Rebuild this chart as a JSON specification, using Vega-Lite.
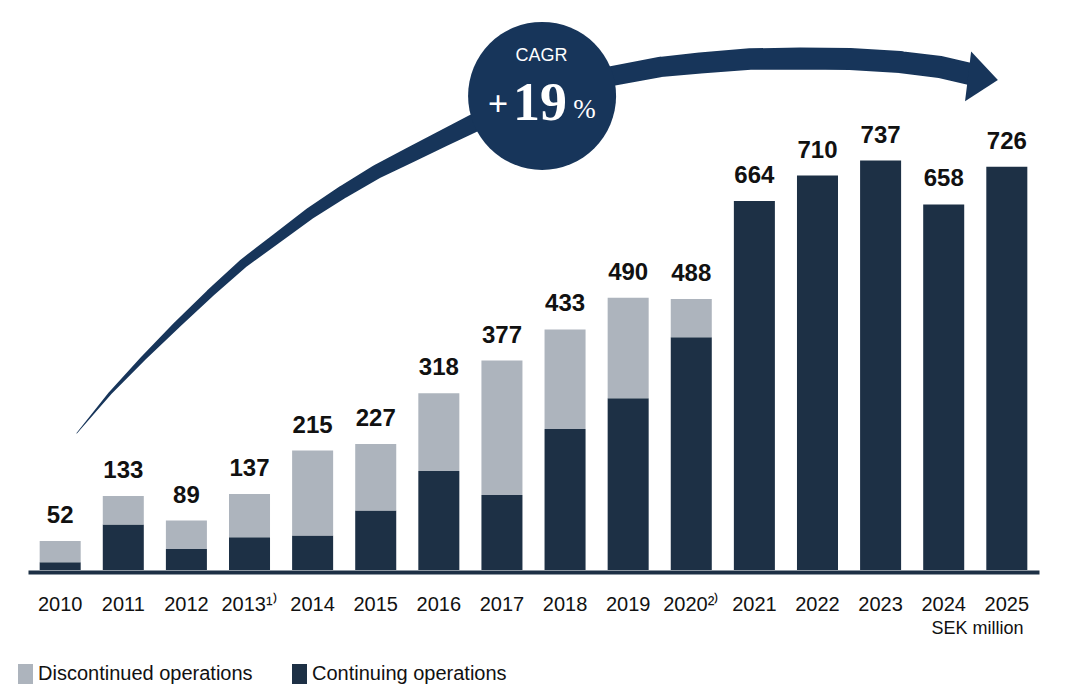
{
  "$schema": "https://vega.github.io/schema/vega-lite/v6.json",
  "width": 1011,
  "height": 560,
  "autosize": {"type": "none"},
  "padding": {"left": 28, "top": 10, "right": 37, "bottom": 130},
  "background": "white",
  "config": {"view": {"stroke": null}},
  "datasets": {
    "bars": [
      {"year": "2010", "total": 52, "Continuing operations": 14, "Discontinued operations": 38},
      {"year": "2011", "total": 133, "Continuing operations": 82, "Discontinued operations": 51},
      {"year": "2012", "total": 89, "Continuing operations": 38, "Discontinued operations": 51},
      {"year": "2013¹⁾", "total": 137, "Continuing operations": 59, "Discontinued operations": 78},
      {"year": "2014", "total": 215, "Continuing operations": 62, "Discontinued operations": 153},
      {"year": "2015", "total": 227, "Continuing operations": 107, "Discontinued operations": 120},
      {"year": "2016", "total": 318, "Continuing operations": 178, "Discontinued operations": 140},
      {"year": "2017", "total": 377, "Continuing operations": 135, "Discontinued operations": 242},
      {"year": "2018", "total": 433, "Continuing operations": 254, "Discontinued operations": 179},
      {"year": "2019", "total": 490, "Continuing operations": 309, "Discontinued operations": 181},
      {"year": "2020²⁾", "total": 488, "Continuing operations": 419, "Discontinued operations": 69},
      {"year": "2021", "total": 664, "Continuing operations": 664, "Discontinued operations": 0},
      {"year": "2022", "total": 710, "Continuing operations": 710, "Discontinued operations": 0},
      {"year": "2023", "total": 737, "Continuing operations": 737, "Discontinued operations": 0},
      {"year": "2024", "total": 658, "Continuing operations": 658, "Discontinued operations": 0},
      {"year": "2025", "total": 726, "Continuing operations": 726, "Discontinued operations": 0}
    ],
    "arrow": [
      {"seq": 1, "pos": 2010.262, "val": 246.1},
      {"seq": 2, "pos": 2010.790, "val": 318.0},
      {"seq": 3, "pos": 2011.317, "val": 381.0},
      {"seq": 4, "pos": 2011.847, "val": 441.0},
      {"seq": 5, "pos": 2012.374, "val": 498.0},
      {"seq": 6, "pos": 2012.902, "val": 552.0},
      {"seq": 7, "pos": 2013.431, "val": 597.0},
      {"seq": 8, "pos": 2013.959, "val": 642.0},
      {"seq": 9, "pos": 2014.487, "val": 680.9},
      {"seq": 10, "pos": 2015.016, "val": 716.9},
      {"seq": 11, "pos": 2015.544, "val": 747.0},
      {"seq": 12, "pos": 2016.072, "val": 777.0},
      {"seq": 13, "pos": 2016.547, "val": 804.0},
      {"seq": 14, "pos": 2017.287, "val": 835.1},
      {"seq": 15, "pos": 2018.000, "val": 863.9},
      {"seq": 16, "pos": 2018.745, "val": 889.2},
      {"seq": 17, "pos": 2019.506, "val": 905.4},
      {"seq": 18, "pos": 2020.140, "val": 912.6},
      {"seq": 19, "pos": 2020.932, "val": 919.7},
      {"seq": 20, "pos": 2021.725, "val": 920.6},
      {"seq": 21, "pos": 2022.517, "val": 919.7},
      {"seq": 22, "pos": 2023.309, "val": 914.3},
      {"seq": 23, "pos": 2023.943, "val": 905.4},
      {"seq": 24, "pos": 2024.419, "val": 892.7}
    ]
  },
  "layer": [
    {
      "data": {"name": "bars"},
      "layer": [
        {
          "transform": [{"fold": ["Continuing operations", "Discontinued operations"], "as": ["type", "value"]}],
          "mark": {"type": "bar"},
          "encoding": {
            "x": {
              "field": "year", "type": "nominal", "sort": null,
              "scale": {"type": "band", "paddingInner": 0.35, "paddingOuter": 0.185},
              "axis": {
                "title": "SEK million", "titleX": 995, "titleY": 56, "titleAlign": "right", "titleBaseline": "middle",
                "titleFont": "Liberation Sans", "titleFontSize": 18, "titleFontWeight": "normal", "titleColor": "#111111",
                "labelAngle": 0, "labelFont": "Liberation Sans", "labelFontSize": 20, "labelColor": "#111111",
                "labelPadding": 22.5, "labelBaseline": "top", "ticks": false, "tickSize": 0,
                "domainColor": "#1d3045", "domainWidth": 4, "offset": 2
              }
            },
            "y": {"field": "value", "type": "quantitative", "stack": "zero", "scale": {"domain": [0, 1008]}, "axis": null},
            "color": {
              "field": "type", "type": "nominal",
              "scale": {"domain": ["Discontinued operations", "Continuing operations"], "range": ["#adb4bd", "#1d3045"]},
              "legend": {
                "orient": "none", "legendX": -12.5, "legendY": 654, "direction": "horizontal", "title": null,
                "symbolType": "M-0.75,-1H0.75V1H-0.75Z", "symbolSize": 400, "symbolStrokeWidth": 0, "symbolOpacity": 1,
                "labelFont": "Liberation Sans", "labelFontSize": 20, "labelColor": "#111111",
                "labelOffset": 2.5, "columnPadding": 36, "labelLimit": 400, "padding": 0
              }
            },
            "order": {"field": "type", "sort": "ascending"}
          }
        },
        {
          "mark": {"type": "text", "baseline": "alphabetic", "dy": -18, "font": "Liberation Sans", "fontSize": 24, "fontWeight": "bold", "color": "#111111"},
          "encoding": {
            "x": {"field": "year", "type": "nominal", "sort": null},
            "y": {"field": "total", "type": "quantitative", "scale": {"domain": [0, 1008]}},
            "text": {"field": "total", "type": "quantitative"}
          }
        }
      ]
    },
    {
      "layer": [
        {
          "data": {"name": "arrow"},
          "mark": {"type": "trail", "color": "#17355a"},
          "encoding": {
            "x": {"field": "pos", "type": "quantitative", "scale": {"domain": [2009.49, 2025.51]}, "axis": null},
            "y": {"field": "val", "type": "quantitative", "scale": {"domain": [0, 1008]}, "axis": null},
            "order": {"field": "seq", "type": "quantitative"},
            "size": {"field": "seq", "type": "quantitative", "scale": {"domain": [1, 2, 4, 8, 13, 20, 24], "range": [0.5, 3, 7, 11.5, 18, 22, 22]}, "legend": null}
          }
        },
        {
          "data": {"values": [{"note": "arrowhead"}]},
          "mark": {"type": "point", "shape": "M-0.5,-1L0.7,0L-0.5,1Z", "size": 2500, "angle": 7, "filled": true, "color": "#17355a", "opacity": 1, "strokeWidth": 0},
          "encoding": {
            "x": {"datum": 2024.583, "type": "quantitative", "scale": {"domain": [2009.49, 2025.51]}},
            "y": {"datum": 885.8, "type": "quantitative", "scale": {"domain": [0, 1008]}}
          }
        },
        {
          "data": {"values": [{"note": "CAGR +19%"}]},
          "mark": {"type": "point", "shape": "circle", "size": 21904, "filled": true, "color": "#17355a", "opacity": 1, "strokeWidth": 0},
          "encoding": {
            "x": {"datum": 2017.636, "type": "quantitative", "scale": {"domain": [2009.49, 2025.51]}},
            "y": {"datum": 853.4, "type": "quantitative", "scale": {"domain": [0, 1008]}}
          }
        },
        {
          "data": {"values": [{"note": "CAGR"}]},
          "mark": {"type": "text", "text": "CAGR", "font": "Liberation Sans", "fontSize": 18, "color": "white", "baseline": "middle", "align": "center"},
          "encoding": {
            "x": {"datum": 2017.628, "type": "quantitative", "scale": {"domain": [2009.49, 2025.51]}},
            "y": {"datum": 924.6, "type": "quantitative", "scale": {"domain": [0, 1008]}}
          }
        },
        {
          "data": {"values": [{"note": "+"}]},
          "mark": {"type": "text", "text": "+", "font": "Liberation Serif", "fontSize": 36, "fontWeight": "bold", "color": "white", "baseline": "alphabetic", "align": "center"},
          "encoding": {
            "x": {"datum": 2016.938, "type": "quantitative", "scale": {"domain": [2009.49, 2025.51]}},
            "y": {"datum": 818.0, "type": "quantitative", "scale": {"domain": [0, 1008]}}
          }
        },
        {
          "data": {"values": [{"note": "19"}]},
          "mark": {"type": "text", "text": "19", "font": "Liberation Serif", "fontSize": 54, "fontWeight": "bold", "color": "white", "baseline": "alphabetic", "align": "center"},
          "encoding": {
            "x": {"datum": 2017.604, "type": "quantitative", "scale": {"domain": [2009.49, 2025.51]}},
            "y": {"datum": 810.0, "type": "quantitative", "scale": {"domain": [0, 1008]}}
          }
        },
        {
          "data": {"values": [{"note": "%"}]},
          "mark": {"type": "text", "text": "%", "font": "Liberation Serif", "fontSize": 27, "color": "white", "baseline": "alphabetic", "align": "center"},
          "encoding": {
            "x": {"datum": 2018.309, "type": "quantitative", "scale": {"domain": [2009.49, 2025.51]}},
            "y": {"datum": 813.8, "type": "quantitative", "scale": {"domain": [0, 1008]}}
          }
        }
      ]
    }
  ],
  "resolve": {"scale": {"x": "independent"}}
}
